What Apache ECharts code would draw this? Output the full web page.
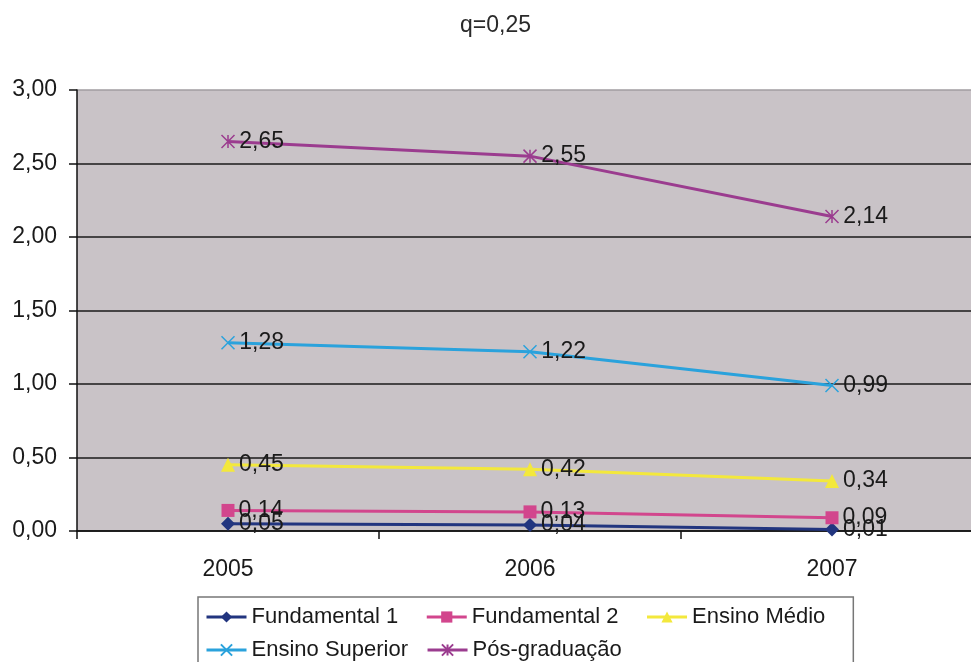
<!DOCTYPE html>
<html>
<head>
<meta charset="utf-8">
<script src="https://cdn.jsdelivr.net/npm/echarts@6/dist/echarts.min.js"></script>
<style>
html,body{margin:0;padding:0;background:#fff;overflow:hidden;width:971px;height:662px;}
#chart{width:983px;height:662px;}
</style>
</head>
<body>
<div id="chart"></div>
<script>
const categories = ['2005', '2006', '2007'];
const fundamental1 = [0.05, 0.04, 0.01];
const fundamental2 = [0.14, 0.13, 0.09];
const ensinoMedio = [0.45, 0.42, 0.34];
const ensinoSuperior = [1.28, 1.22, 0.99];
const posGraduacao = [2.65, 2.55, 2.14];
const seriesNames = ['Fundamental 1', 'Fundamental 2', 'Ensino Médio', 'Ensino Superior', 'Pós-graduação'];
const titleText = 'q=0,25';

const FONT = 'Liberation Sans, Arial, sans-serif';
const FS = 23;
const fmt = v => Number(v).toFixed(2).replace('.', ',');

function mk(name, data, color, symbol, size, extra) {
  return Object.assign({
    name: name,
    type: 'line',
    data: data,
    symbol: symbol,
    symbolSize: size,
    lineStyle: { color: color, width: 3 },
    itemStyle: { color: color },
    label: {
      show: true,
      position: 'right',
      distance: 4,
      color: '#1a1a1a',
      fontSize: FS,
      fontFamily: FONT,
      formatter: p => fmt(p.value)
    },
    animation: false
  }, extra || {});
}

const legendCommon = {
  orient: 'horizontal',
  itemWidth: 40,
  itemHeight: 14,
  lineStyle: { width: 3 },
  textStyle: { color: '#1a1a1a', fontSize: 22, fontFamily: FONT }
};

const chart = echarts.init(document.getElementById('chart'));
chart.setOption({
  backgroundColor: '#ffffff',
  animation: false,
  title: {
    text: titleText,
    left: 460,
    top: 14,
    padding: 0,
    textStyle: { color: '#2a2a2a', fontSize: FS, fontWeight: 'normal', fontFamily: FONT }
  },
  legend: [
    Object.assign({}, legendCommon, {
      data: seriesNames.slice(0, 3),
      left: 198,
      top: 597,
      padding: [9, 28, 80, 7],
      itemGap: 27,
      borderColor: '#777',
      borderWidth: 1.5
    }),
    Object.assign({}, legendCommon, {
      data: seriesNames.slice(3),
      left: 198,
      top: 639,
      padding: [0, 0, 0, 7],
      itemGap: 18
    })
  ],
  grid: {
    left: 77,
    right: 0,
    top: 90,
    bottom: 131,
    show: true,
    backgroundColor: '#c9c3c7',
    borderWidth: 0
  },
  xAxis: {
    type: 'category',
    data: categories,
    boundaryGap: true,
    axisLine: { show: true, lineStyle: { color: '#111', width: 1.5 } },
    axisTick: { show: true, length: 8, lineStyle: { color: '#111', width: 1.5 } },
    axisLabel: { color: '#1a1a1a', fontSize: FS, fontFamily: FONT, margin: 27 },
    splitLine: { show: false }
  },
  yAxis: {
    type: 'value',
    min: 0,
    max: 3,
    interval: 0.5,
    axisLine: { show: true, lineStyle: { color: '#111', width: 1.5 } },
    axisTick: { show: true, length: 8, lineStyle: { color: '#111', width: 1.5 } },
    axisLabel: { color: '#1a1a1a', fontSize: FS, fontFamily: FONT, margin: 20, formatter: v => fmt(v) },
    splitLine: {
      show: true,
      lineStyle: { color: ['#1a1a1a', '#1a1a1a', '#1a1a1a', '#1a1a1a', '#1a1a1a', '#1a1a1a', '#a09ca0'], width: 1.5 }
    }
  },
  series: [
    mk(seriesNames[0], fundamental1, '#22357f', 'diamond', 14),
    mk(seriesNames[1], fundamental2, '#d2468d', 'rect', 13),
    mk(seriesNames[2], ensinoMedio, '#f3e83c', 'triangle', 14),
    mk(seriesNames[3], ensinoSuperior, '#2aa2dc', 'path://M0,0L10,10M10,0L0,10', 13,
       { itemStyle: { color: '#2aa2dc', borderColor: '#2aa2dc', borderWidth: 1.5 } }),
    mk(seriesNames[4], posGraduacao, '#9b3c8f', 'path://M0,0L10,10M10,0L0,10M5,0L5,10', 13,
       { itemStyle: { color: '#9b3c8f', borderColor: '#9b3c8f', borderWidth: 1.5 } })
  ]
});
</script>
</body>
</html>
